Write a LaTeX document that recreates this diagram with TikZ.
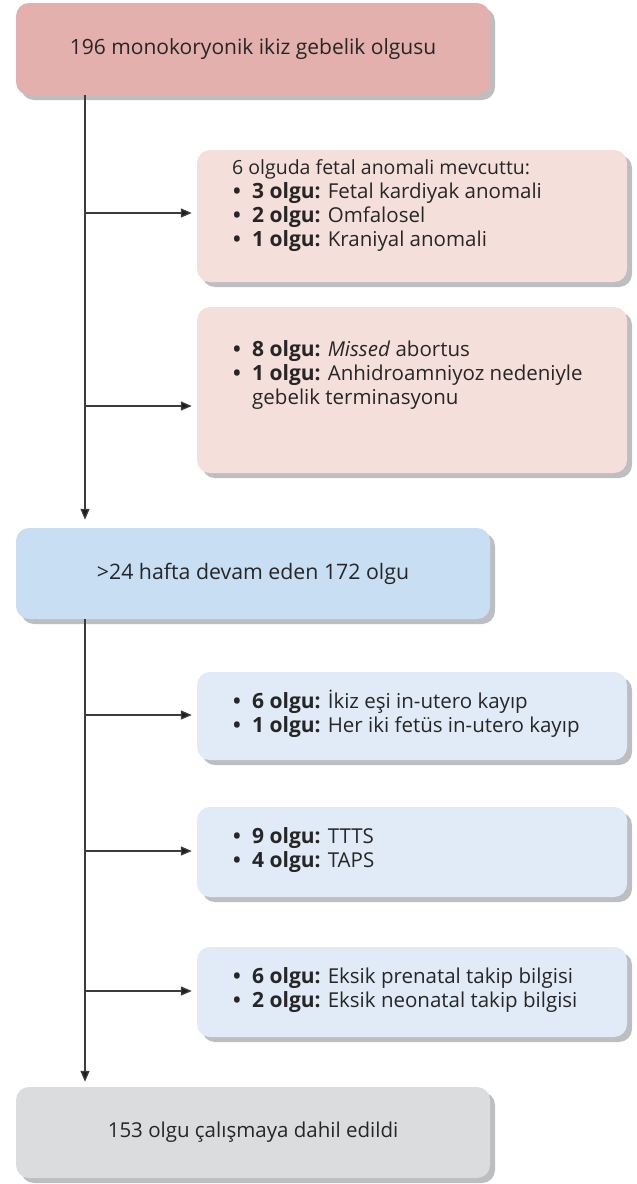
\documentclass[tikz,border=0pt]{standalone}
\usepackage{fontspec}
\setmainfont{Open Sans}
\usetikzlibrary{shadows,arrows.meta}
\definecolor{topred}{HTML}{E3B0AE}
\definecolor{lightred}{HTML}{F5DFDB}
\definecolor{midblue}{HTML}{C8DEF3}
\definecolor{lightblue}{HTML}{E0EBF7}
\definecolor{lightgrey}{HTML}{DBDCDE}
\definecolor{shadowgrey}{HTML}{BDBEC0}
\definecolor{txtcol}{HTML}{262626}
\definecolor{linecol}{HTML}{3C3C3C}
\definecolor{tipcol}{HTML}{1E1E1E}
\newcommand{\itm}[2]{\makebox[20pt][l]{\hspace{1pt}\textbf{•}}{\fontsize{21}{24}\selectfont\textbf{#1}} #2}
\begin{document}
\begin{tikzpicture}[x=1pt,y=-1pt,
  box/.style={rectangle, rounded corners=13pt, draw=none, inner sep=0pt,
    text=txtcol,
    drop shadow={shadow xshift=5pt, shadow yshift=-5pt, fill=shadowgrey, opacity=1}},
  wide/.style={box, minimum width=474pt},
  side/.style={box, minimum width=430pt},
  txt/.style={anchor=west, align=left, inner sep=0pt, text=txtcol,
    font=\fontsize{20.5}{24}\selectfont},
  arr/.style={draw=linecol, line width=1.3pt,
    -{Triangle[length=11pt,width=9pt,fill=tipcol]}}
]
\useasboundingbox (0,0) rectangle (637,1184);
\node[wide, fill=topred, minimum height=92pt, font=\fontsize{21}{24}\selectfont] (b1) at (253,49) {196 monokoryonik ikiz gebelik olgusu};
\node[side, fill=lightred, minimum height=132pt] (b2) at (412,216) {};
\node[side, fill=lightred, minimum height=166pt] (b3) at (412,390) {};
\node[wide, fill=midblue, minimum height=91pt, font=\fontsize{21.3}{24}\selectfont] (b4) at (253,573.5) {>24 hafta devam eden 172 olgu};
\node[side, fill=lightblue, minimum height=88pt] (b5) at (412,716) {};
\node[side, fill=lightblue, minimum height=90pt] (b6) at (412,852) {};
\node[side, fill=lightblue, minimum height=90pt] (b7) at (412,992) {};
\node[wide, fill=lightgrey, minimum height=91pt, font=\fontsize{20.5}{24}\selectfont] (b8) at (253,1132.5) {153 olgu çalışmaya dahil edildi};

\node[txt] (t2) at (232,206) {{\fontsize{19.5}{24}\selectfont 6 olguda fetal anomali mevcuttu:}\\
\itm{3 olgu:}{Fetal kardiyak anomali}\\
\itm{2 olgu:}{Omfalosel}\\
\itm{1 olgu:}{Kraniyal anomali}};
\node[txt] (t3) at (232,375) {\itm{8 olgu:}{\textit{Missed} abortus}\\
\itm{1 olgu:}{Anhidroamniyoz nedeniyle}\\
\hspace{20pt}gebelik terminasyonu};
\node[txt] (t5) at (232,714) {\itm{6 olgu:}{İkiz eşi in-utero kayıp}\\
\itm{1 olgu:}{Her iki fetüs in-utero kayıp}};
\node[txt] (t6) at (232,850) {\itm{9 olgu:}{TTTS}\\
\itm{4 olgu:}{TAPS}};
\node[txt] (t7) at (232,990) {\itm{6 olgu:}{Eksik prenatal takip bilgisi}\\
\itm{2 olgu:}{Eksik neonatal takip bilgisi}};

\coordinate (spine) at (85,0);
\coordinate (j2) at (85,213);
\coordinate (j3) at (85,406);
\coordinate (j5) at (85,715);
\coordinate (j6) at (85,851);
\coordinate (j7) at (85,991);

\draw[arr, shorten >=8pt] (b1.south -| spine) -- (b4.north -| spine);
\draw[arr, shorten >=5pt] (b4.south -| spine) -- (b8.north -| spine);
\draw[arr, shorten >=5pt] (j2) -- (j2 -| b2.west);
\draw[arr, shorten >=5pt] (j3) -- (j3 -| b3.west);
\draw[arr, shorten >=5pt] (j5) -- (j5 -| b5.west);
\draw[arr, shorten >=5pt] (j6) -- (j6 -| b6.west);
\draw[arr, shorten >=5pt] (j7) -- (j7 -| b7.west);
\end{tikzpicture}
\end{document}
